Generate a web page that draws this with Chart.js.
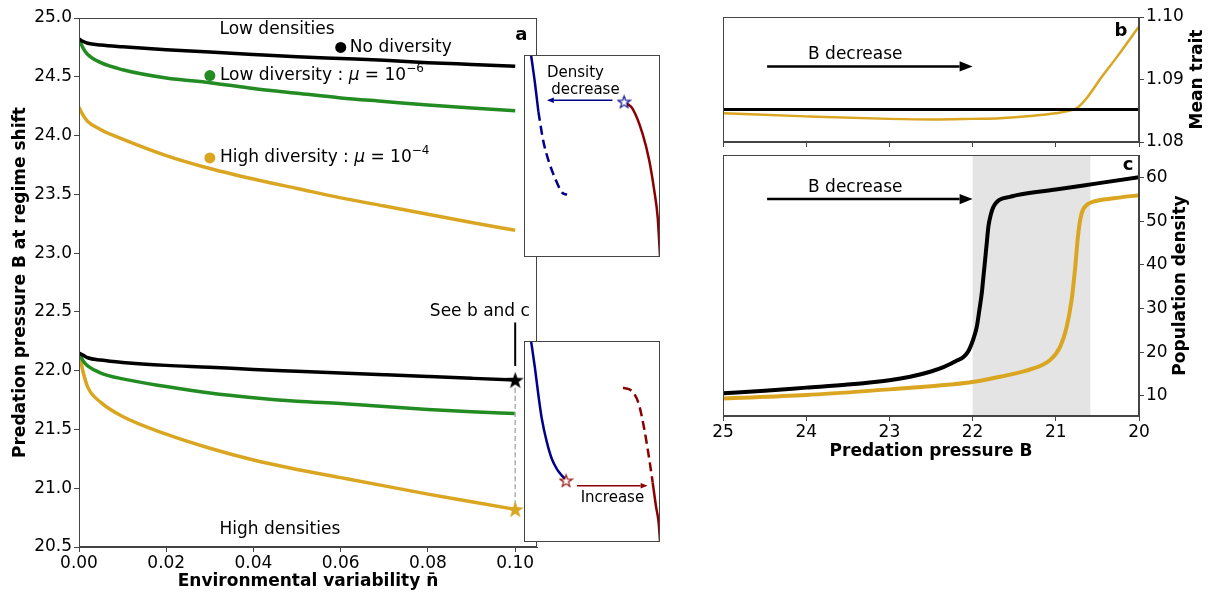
<!DOCTYPE html>
<html>
<head>
<meta charset="utf-8">
<script src="https://cdn.jsdelivr.net/npm/chart.js@4.4.1/dist/chart.umd.min.js"></script>
<style>
html, body { margin: 0; padding: 0; background: #fff; }
#wrap { position: relative; width: 1211px; height: 592px; overflow: hidden; }
canvas { position: absolute; }
.inset { background: #fff; }
</style>
</head>
<body>
<div id="wrap">
  <canvas id="mainChart" width="560" height="592" style="left:0;top:0"></canvas>
  <canvas id="insetTop" class="inset" width="136" height="202" style="left:524px;top:55px"></canvas>
  <canvas id="insetBottom" class="inset" width="136" height="201" style="left:524px;top:341px"></canvas>
  <canvas id="traitChart" width="511" height="150" style="left:700px;top:0"></canvas>
  <canvas id="densityChart" width="511" height="320" style="left:700px;top:150px"></canvas>
</div>
<script>
// panel a: B at regime shift vs environmental variability
const nBar = [0, 0.001, 0.002, 0.005, 0.01, 0.02, 0.03, 0.04, 0.05, 0.06, 0.07, 0.08, 0.09, 0.10];
const lowNoDiv    = [24.82, 24.80, 24.785, 24.77, 24.755, 24.73, 24.71, 24.69, 24.67, 24.655, 24.64, 24.62, 24.605, 24.59];
const lowLowDiv   = [24.82, 24.74, 24.69, 24.62, 24.56, 24.49, 24.45, 24.40, 24.36, 24.32, 24.29, 24.26, 24.235, 24.21];
const lowHighDiv  = [24.24, 24.17, 24.12, 24.05, 23.97, 23.83, 23.72, 23.63, 23.55, 23.47, 23.40, 23.33, 23.26, 23.195];
const highNoDiv   = [22.15, 22.13, 22.11, 22.09, 22.07, 22.045, 22.03, 22.01, 21.995, 21.98, 21.965, 21.95, 21.935, 21.92];
const highLowDiv  = [22.15, 22.08, 22.04, 21.98, 21.93, 21.865, 21.81, 21.77, 21.74, 21.72, 21.695, 21.67, 21.65, 21.635];
const highHighDiv = [22.15, 21.98, 21.86, 21.73, 21.61, 21.46, 21.34, 21.24, 21.16, 21.09, 21.02, 20.95, 20.885, 20.82];
const nTicks = [0, 0.02, 0.04, 0.06, 0.08, 0.10];
const shiftTicks = [20.5, 21.0, 21.5, 22.0, 22.5, 23.0, 23.5, 24.0, 24.5, 25.0];

// insets (unitless sketches)
const topBlueX = [0.052, 0.081, 0.106];
const topBlueY = [1.0, 0.859, 0.718];
const topBlueDashX = [0.106, 0.141, 0.18, 0.23, 0.279, 0.316];
const topBlueDashY = [0.718, 0.577, 0.478, 0.387, 0.32, 0.308];
const topRedX = [0.756, 0.798, 0.872, 0.921, 0.958, 0.983, 1.0];
const topRedY = [0.76, 0.735, 0.61, 0.478, 0.328, 0.196, 0.005];
const botBlueX = [0.052, 0.081, 0.106, 0.131, 0.168, 0.205, 0.242, 0.279, 0.304];
const botBlueY = [1.0, 0.863, 0.73, 0.613, 0.497, 0.413, 0.363, 0.33, 0.313];
const botRedDashX = [0.728, 0.773, 0.81, 0.847, 0.884, 0.921, 0.946];
const botRedDashY = [0.767, 0.76, 0.738, 0.68, 0.563, 0.413, 0.297];
const botRedX = [0.946, 0.97, 0.99, 1.0];
const botRedY = [0.297, 0.18, 0.097, 0.005];

// panel b: mean trait vs B
const bTicks = [25, 24, 23, 22, 21, 20];
const traitTicks = [1.08, 1.09, 1.10];
const traitB = [25, 24, 23, 22.47, 22, 21.67, 21.27, 21, 20.87, 20.75, 20.63, 20.47, 20.26, 20];
const traitHigh = [1.0846, 1.0841, 1.0837, 1.0836, 1.0837, 1.0838, 1.0842, 1.0846, 1.0849, 1.0854, 1.0870, 1.0900, 1.0937, 1.0985];
const traitNoneB = [25, 20];
const traitNone = [1.0852, 1.0852];

// panel c: population density vs B
const densTicks = [10, 20, 30, 40, 50, 60];
const densNoneB = [25, 24.5, 24, 23.5, 23, 22.75, 22.5, 22.35, 22.27, 22.2, 22.11, 22.05, 22.01, 21.98, 21.95, 21.92, 21.89, 21.87, 21.85, 21.83, 21.81, 21.78, 21.75, 21.71, 21.67, 21.55, 21.47, 21, 20.5, 20];
const densNone  = [10.6, 11.2, 11.9, 12.6, 13.6, 14.4, 15.6, 16.6, 17.3, 18.0, 18.9, 20.3, 22.0, 23.7, 25.8, 29.5, 33.5, 37.3, 41.1, 45, 48.8, 51.6, 53.3, 54.4, 55.0, 55.6, 56.0, 57.3, 58.7, 60.1];
const densHighB = [25, 24, 23, 22.5, 22.27, 22, 21.67, 21.27, 21.07, 20.95, 20.87, 20.81, 20.77, 20.73, 20.69, 20.63, 20.55, 20.3, 20];
const densHigh  = [9.4, 10.2, 11.5, 12.2, 12.6, 13.2, 14.4, 16.3, 18.2, 21.2, 25.8, 32, 38.8, 47.2, 51.8, 53.7, 54.5, 55.3, 56.0];

const axisColor = '#444';
const GOLD = '#daa520', GREEN = '#228b22', NAVY = '#00008b', MAROON = '#8b0000';
Chart.defaults.font.family = 'DejaVu Sans';
Chart.defaults.font.size = 17;
Chart.defaults.color = '#000';

const pts = (xs, ys) => xs.map((x, i) => ({ x: x, y: ys[i] }));

function starImage(size, fill, stroke, lw) {
    const c = document.createElement('canvas');
    c.width = c.height = size;
    const g = c.getContext('2d');
    const r = size / 2 - (lw || 0.5), cx = size / 2, cy = size / 2 + r * 0.08;
    g.beginPath();
    for (let i = 0; i < 10; i++) {
        const a = -Math.PI / 2 + i * Math.PI / 5;
        const rr = i % 2 ? r * 0.4 : r;
        g.lineTo(cx + rr * Math.cos(a), cy + rr * Math.sin(a));
    }
    g.closePath();
    g.fillStyle = fill;
    g.fill();
    if (stroke) { g.strokeStyle = stroke; g.lineWidth = lw; g.stroke(); }
    return c;
}

function arrow(ctx, x1, y1, x2, y2, color, lw, head) {
    const a = Math.atan2(y2 - y1, x2 - x1), c = Math.cos(a), s = Math.sin(a);
    ctx.save();
    ctx.strokeStyle = color; ctx.fillStyle = color; ctx.lineWidth = lw;
    ctx.beginPath(); ctx.moveTo(x1, y1); ctx.lineTo(x2 - head * c, y2 - head * s); ctx.stroke();
    ctx.beginPath(); ctx.moveTo(x2, y2);
    ctx.lineTo(x2 - head * c + head * 0.4 * s, y2 - head * s - head * 0.4 * c);
    ctx.lineTo(x2 - head * c - head * 0.4 * s, y2 - head * s + head * 0.4 * c);
    ctx.closePath(); ctx.fill();
    ctx.restore();
}

// parts: [text, font, dy]
function richText(ctx, parts, x, y, align) {
    let w = 0;
    parts.forEach(p => { ctx.font = p[1]; w += ctx.measureText(p[0]).width; });
    let cx = align === 'center' ? x - w / 2 : (align === 'right' ? x - w : x);
    ctx.textAlign = 'left';
    ctx.textBaseline = 'middle';
    ctx.fillStyle = '#000';
    parts.forEach(p => { ctx.font = p[1]; ctx.fillText(p[0], cx, y + (p[2] || 0)); cx += ctx.measureText(p[0]).width; });
}

const framePlugin = {
    id: 'frame',
    afterDatasetsDraw(chart) {
        const a = chart.chartArea, c = chart.ctx;
        c.save();
        c.strokeStyle = axisColor;
        c.lineWidth = 1;
        c.strokeRect(Math.round(a.left) + 0.5, Math.round(a.top) + 0.5, Math.round(a.right - a.left) - 1, Math.round(a.bottom - a.top) - 1);
        c.restore();
    }
};

const baseOpts = {
    responsive: false,
    animation: false,
    devicePixelRatio: 1,
    events: [],
    plugins: { legend: { display: false }, tooltip: { enabled: false } },
    elements: { point: { radius: 0 }, line: { cubicInterpolationMode: 'monotone' } }
};

// fixed box size, and no extra room asked for overhanging tick labels
function fixBox(w, h) {
    return s => {
        if (w) s.width = w;
        if (h) s.height = h;
        s.paddingTop = s.paddingBottom = s.paddingLeft = s.paddingRight = 0;
    };
}

function axis(extra) {
    return Object.assign({
        type: 'linear',
        grid: { drawOnChartArea: false, tickLength: 5, color: axisColor },
        border: { color: axisColor }
    }, extra);
}

const N = '17px "DejaVu Sans"', I = 'italic 17px "DejaVu Sans"', S = '12px "DejaVu Sans"';

// Panel a
const mainNotes = {
    id: 'mainNotes',
    afterDraw(chart) {
        const c = chart.ctx, x = chart.scales.x, y = chart.scales.y;
        c.save();
        richText(c, [['Low densities', N]], x.getPixelForValue(0.0322), y.getPixelForValue(24.9), 'left');
        richText(c, [['No diversity', N]], x.getPixelForValue(0.0621), y.getPixelForValue(24.75), 'left');
        richText(c, [['Low diversity : ', N], ['\u03bc', I], [' = 10', N], ['\u22126', S, -7]], x.getPixelForValue(0.0323), y.getPixelForValue(24.51), 'left');
        richText(c, [['High diversity : ', N], ['\u03bc', I], [' = 10', N], ['\u22124', S, -7]], x.getPixelForValue(0.0323), y.getPixelForValue(23.81), 'left');
        richText(c, [['High densities', N]], x.getPixelForValue(0.0322), y.getPixelForValue(20.65), 'left');
        richText(c, [['See b and c', N]], x.getPixelForValue(0.0919), y.getPixelForValue(22.5), 'center');
        richText(c, [['a', 'bold 18px "DejaVu Sans"']], x.getPixelForValue(0.1014), y.getPixelForValue(24.855), 'center');
        c.restore();
    }
};

new Chart('mainChart', {
    type: 'line',
    data: {
        datasets: [
            { data: [{ x: 0.1, y: 21.92 }, { x: 0.1, y: 20.82 }], showLine: false, pointRadius: 9, clip: false,
              pointStyle: [starImage(19, '#000'), starImage(19, GOLD)] },
            { data: [{ x: 0.06, y: 24.75 }, { x: 0.03, y: 24.51 }, { x: 0.03, y: 23.81 }], showLine: false, pointRadius: 5.5,
              pointBackgroundColor: ['#000', GREEN, GOLD], pointBorderWidth: 0 },
            { data: [{ x: 0.1, y: 22.04 }, { x: 0.1, y: 22.41 }], borderColor: '#000', borderWidth: 2 },
            { data: [{ x: 0.1, y: 21.92 }, { x: 0.1, y: 20.82 }], borderColor: '#b0b0b0', borderWidth: 1.5, borderDash: [5, 3] },
            { data: pts(nBar, lowNoDiv), borderColor: '#000', borderWidth: 3.5 },
            { data: pts(nBar, highNoDiv), borderColor: '#000', borderWidth: 3.5 },
            { data: pts(nBar, lowLowDiv), borderColor: GREEN, borderWidth: 3.5 },
            { data: pts(nBar, highLowDiv), borderColor: GREEN, borderWidth: 3.5 },
            { data: pts(nBar, lowHighDiv), borderColor: GOLD, borderWidth: 3.5 },
            { data: pts(nBar, highHighDiv), borderColor: GOLD, borderWidth: 3.5 }
        ]
    },
    options: Object.assign({}, baseOpts, {
        layout: { autoPadding: false, padding: { left: 0, top: 18, right: 23, bottom: 0 } },
        scales: {
            x: axis({
                min: 0, max: 0.105,
                afterBuildTicks: s => { s.ticks = nTicks.map(v => ({ value: v })); },
                afterFit: fixBox(0, 45),
                ticks: { callback: v => v.toFixed(2), padding: 1, autoSkip: false, maxRotation: 0 },
                title: { display: true, text: 'Environmental variability n\u0304', font: { weight: 'bold' }, padding: { top: 0, bottom: 0 } }
            }),
            y: axis({
                min: 20.5, max: 25,
                afterBuildTicks: s => { s.ticks = shiftTicks.map(v => ({ value: v })); },
                afterFit: fixBox(79, 0),
                ticks: { callback: v => v.toFixed(1), padding: 2, autoSkip: false },
                title: { display: true, text: 'Predation pressure B at regime shift', font: { weight: 'bold' }, padding: { top: 10, bottom: 0 } }
            })
        }
    }),
    plugins: [framePlugin, mainNotes]
});

// Insets
function insetChart(id, datasets, notes) {
    return new Chart(id, {
        type: 'line',
        data: { datasets: datasets },
        options: Object.assign({}, baseOpts, {
            layout: { autoPadding: false, padding: 0 },
            scales: {
                x: { type: 'linear', min: 0, max: 1, display: false },
                y: { type: 'linear', min: 0, max: 1, display: false }
            }
        }),
        plugins: [{
            id: 'insetNotes',
            afterDraw(chart) {
                const c = chart.ctx, x = chart.scales.x, y = chart.scales.y;
                c.save();
                notes(c, v => x.getPixelForValue(v), v => y.getPixelForValue(v));
                c.strokeStyle = axisColor;
                c.lineWidth = 1;
                c.strokeRect(0.5, 0.5, chart.width - 1, chart.height - 1);
                c.restore();
            }
        }]
    });
}

const F15 = '15px "DejaVu Sans"';
insetChart('insetTop', [
    { data: [{ x: 0.736, y: 0.768 }], showLine: false, pointRadius: 7, pointStyle: starImage(15, '#fff', NAVY, 1.1) },
    { data: pts(topBlueX, topBlueY), borderColor: NAVY, borderWidth: 2.5 },
    { data: pts(topBlueDashX, topBlueDashY), borderColor: NAVY, borderWidth: 2.5, borderDash: [9, 5] },
    { data: pts(topRedX, topRedY), borderColor: MAROON, borderWidth: 2.5 }
], (c, px, py) => {
    arrow(c, px(0.65), py(0.776), px(0.168), py(0.776), NAVY, 1.5, 7);
    richText(c, [['Density', F15]], px(0.378), py(0.912), 'center');
    richText(c, [['decrease', F15]], px(0.452), py(0.826), 'center');
});

insetChart('insetBottom', [
    { data: [{ x: 0.309, y: 0.305 }], showLine: false, pointRadius: 7, pointStyle: starImage(15, '#fff', MAROON, 1.1) },
    { data: pts(botBlueX, botBlueY), borderColor: NAVY, borderWidth: 2.5 },
    { data: pts(botRedDashX, botRedDashY), borderColor: MAROON, borderWidth: 2.5, borderDash: [9, 5] },
    { data: pts(botRedX, botRedY), borderColor: MAROON, borderWidth: 2.5 }
], (c, px, py) => {
    arrow(c, px(0.39), py(0.28), px(0.909), py(0.28), MAROON, 1.5, 7);
    richText(c, [['Increase', F15]], px(0.65), py(0.217), 'center');
});

// Right-hand panels b and c
function rightTitle(text, offset) {
    return {
        id: 'rightTitle',
        afterDraw(chart) {
            const a = chart.chartArea, c = chart.ctx;
            c.save();
            c.translate(a.right + offset, (a.top + a.bottom) / 2);
            c.rotate(-Math.PI / 2);
            c.font = 'bold 17px "DejaVu Sans"';
            c.fillStyle = '#000';
            c.textAlign = 'center';
            c.textBaseline = 'middle';
            c.fillText(text, 0, 0);
            c.restore();
        }
    };
}

function bAxis(extra) {
    return axis(Object.assign({
        min: 20, max: 25, reverse: true,
        afterBuildTicks: s => { s.ticks = bTicks.map(v => ({ value: v })); }
    }, extra));
}

new Chart('traitChart', {
    type: 'line',
    data: {
        datasets: [
            { data: pts(traitNoneB, traitNone), borderColor: '#000', borderWidth: 3 },
            { data: pts(traitB, traitHigh), borderColor: GOLD, borderWidth: 2.5 }
        ]
    },
    options: Object.assign({}, baseOpts, {
        layout: { autoPadding: false, padding: { left: 23, top: 17, right: 0, bottom: 0 } },
        scales: {
            x: bAxis({ ticks: { display: false }, afterFit: fixBox(0, 8) }),
            y: axis({
                position: 'right', min: 1.08, max: 1.10,
                afterBuildTicks: s => { s.ticks = traitTicks.map(v => ({ value: v })); },
                afterFit: fixBox(72, 0),
                ticks: { callback: v => v.toFixed(2), padding: 2, autoSkip: false }
            })
        }
    }),
    plugins: [framePlugin, rightTitle('Mean trait', 59), {
        id: 'traitNotes',
        afterDraw(chart) {
            const c = chart.ctx, x = chart.scales.x, y = chart.scales.y;
            arrow(c, x.getPixelForValue(24.47), y.getPixelForValue(1.0921), x.getPixelForValue(22.0), y.getPixelForValue(1.0921), '#000', 2.5, 13);
            richText(c, [['B decrease', N]], x.getPixelForValue(23.41), y.getPixelForValue(1.09397), 'center');
            richText(c, [['b', 'bold 18px "DejaVu Sans"']], x.getPixelForValue(20.216), y.getPixelForValue(1.0977), 'center');
        }
    }]
});

new Chart('densityChart', {
    type: 'line',
    data: {
        datasets: [
            { data: pts(densNoneB, densNone), borderColor: '#000', borderWidth: 4 },
            { data: pts(densHighB, densHigh), borderColor: GOLD, borderWidth: 4 }
        ]
    },
    options: Object.assign({}, baseOpts, {
        layout: { autoPadding: false, padding: { left: 23, top: 5, right: 0, bottom: 0 } },
        scales: {
            x: bAxis({
                afterFit: fixBox(0, 54),
                ticks: { padding: 1, autoSkip: false, maxRotation: 0 },
                title: { display: true, text: 'Predation pressure B', font: { weight: 'bold' }, padding: { top: 0, bottom: 8 } }
            }),
            y: axis({
                position: 'right', min: 5.4, max: 65.2,
                afterBuildTicks: s => { s.ticks = densTicks.map(v => ({ value: v })); },
                afterFit: fixBox(72, 0),
                ticks: { padding: 2, autoSkip: false }
            })
        }
    }),
    plugins: [framePlugin, rightTitle('Population density', 42), {
        id: 'densityNotes',
        beforeDatasetsDraw(chart) {
            const c = chart.ctx, x = chart.scales.x, a = chart.chartArea;
            const x1 = x.getPixelForValue(22.0), x2 = x.getPixelForValue(20.585);
            c.save();
            c.fillStyle = '#e4e4e4';
            c.fillRect(x1, a.top, x2 - x1, a.bottom - a.top);
            c.restore();
        },
        afterDraw(chart) {
            const c = chart.ctx, x = chart.scales.x, y = chart.scales.y;
            arrow(c, x.getPixelForValue(24.47), y.getPixelForValue(55.1), x.getPixelForValue(22.0), y.getPixelForValue(55.1), '#000', 2.5, 13);
            richText(c, [['B decrease', N]], x.getPixelForValue(23.41), y.getPixelForValue(57.64), 'center');
            richText(c, [['c', 'bold 18px "DejaVu Sans"']], x.getPixelForValue(20.13), y.getPixelForValue(62.9), 'center');
        }
    }]
});
</script>
</body>
</html>
